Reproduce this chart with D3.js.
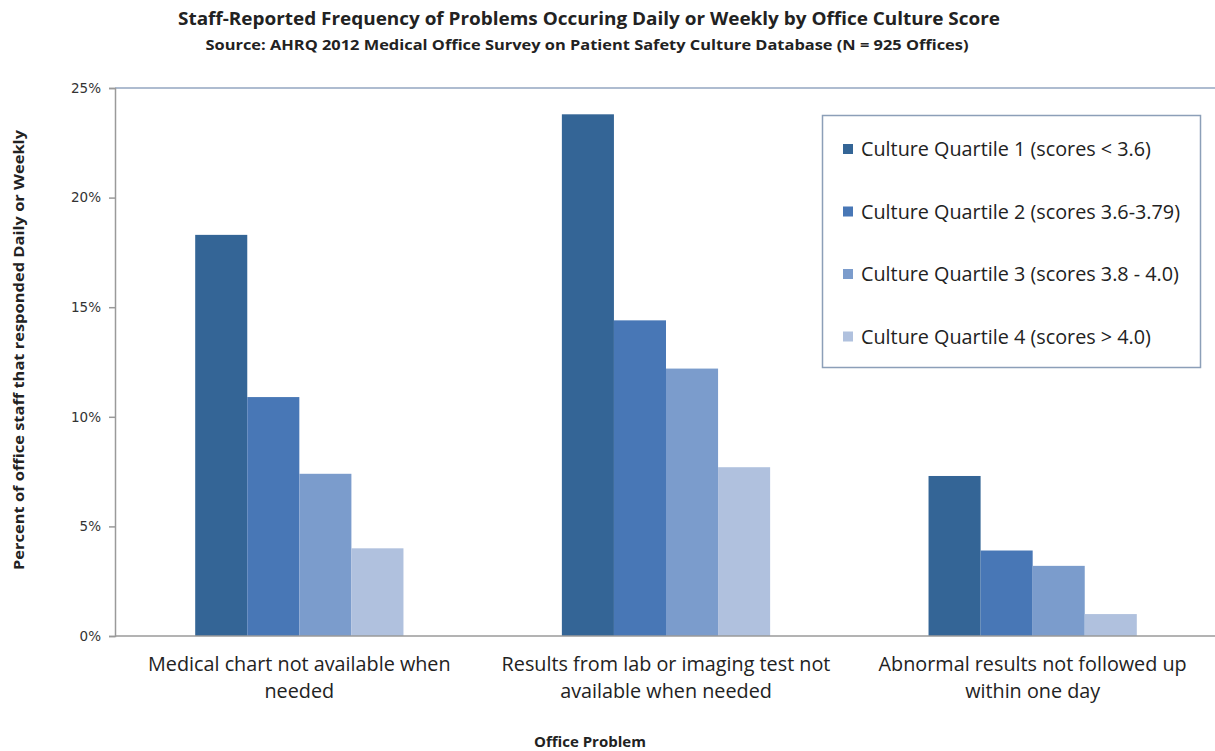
<!DOCTYPE html>
<html>
<head>
<meta charset="utf-8">
<script src="https://cdn.jsdelivr.net/npm/d3@7"></script>
<style>
  html, body { margin: 0; padding: 0; background: #fff; }
  svg { display: block; }
</style>
</head>
<body>
<svg id="chart" width="1215" height="751"></svg>
<script>
// Office problems (x categories)
const problems = [
  ["Medical chart not available when", "needed"],
  ["Results from lab or imaging test not", "available when needed"],
  ["Abnormal results not followed up", "within one day"]
];
// Culture quartile series
const quartiles = [
  "Culture Quartile 1 (scores < 3.6)",
  "Culture Quartile 2 (scores 3.6-3.79)",
  "Culture Quartile 3 (scores 3.8 - 4.0)",
  "Culture Quartile 4 (scores > 4.0)"
];
// Percent of staff reporting daily/weekly, one array per quartile (per problem)
const q1Values = [18.3, 23.8, 7.3];
const q2Values = [10.9, 14.4, 3.9];
const q3Values = [7.4, 12.2, 3.2];
const q4Values = [4.0, 7.7, 1.0];
const seriesValues = [q1Values, q2Values, q3Values, q4Values];
const yTicks = [0, 5, 10, 15, 20, 25];
const colors = ["#346596", "#4877b6", "#7b9ccc", "#b0c1de"];

const FONT = "'Open Sans', Lato, sans-serif";
const svg = d3.select("#chart");
const margin = { left: 115, right: 0, top: 88, bottom: 115 };
const W = 1215, H = 751;
const plotBottom = 636;

const x0 = d3.scaleBand()
  .domain(d3.range(problems.length))
  .range([margin.left + 1, W - margin.right + 1])
  .paddingInner(0.432).paddingOuter(0.216);
const x1 = d3.scaleBand()
  .domain(d3.range(quartiles.length))
  .range([0, x0.bandwidth()]);
const y = d3.scaleLinear().domain([0, 25]).range([plotBottom, margin.top]);

// Fit a text element to a given width (condensed heading style)
function fitWidth(sel, w) {
  sel.attr("textLength", w).attr("lengthAdjust", "spacingAndGlyphs");
}

// Titles
svg.append("text")
  .attr("x", 589).attr("y", 25)
  .attr("text-anchor", "middle")
  .attr("font-family", FONT)
  .attr("font-weight", "bold").attr("font-size", 18)
  .attr("fill", "#222")
  .text("Staff-Reported Frequency of Problems Occuring Daily or Weekly by Office Culture Score")
  .call(fitWidth, 822);
svg.append("text")
  .attr("x", 587).attr("y", 50)
  .attr("text-anchor", "middle")
  .attr("font-family", FONT)
  .attr("font-weight", "bold").attr("font-size", 14)
  .attr("fill", "#222")
  .text("Source:  AHRQ 2012 Medical Office Survey on Patient Safety Culture Database (N = 925 Offices)")
  .call(fitWidth, 763);

// Top border of plot area
svg.append("line")
  .attr("x1", margin.left).attr("x2", W)
  .attr("y1", y(25)).attr("y2", y(25))
  .attr("stroke", "#93a6c0").attr("stroke-width", 1.5);

// Bars
const groups = svg.append("g").selectAll("g")
  .data(problems.map((p, i) => i))
  .join("g")
  .attr("transform", i => `translate(${x0(i)},0)`);
groups.selectAll("rect")
  .data(i => seriesValues.map((vals, s) => ({ s, v: vals[i] })))
  .join("rect")
  .attr("x", d => x1(d.s))
  .attr("width", x1.bandwidth())
  .attr("y", d => y(d.v))
  .attr("height", d => plotBottom - y(d.v))
  .attr("fill", d => colors[d.s]);

// Y axis
const yAxis = d3.axisLeft(y).tickValues(yTicks).tickFormat(d => d + "%").tickSize(6).tickPadding(8);
const gy = svg.append("g").attr("transform", `translate(${margin.left},0)`).call(yAxis);
gy.select(".domain").attr("stroke", "#9a9a9a").attr("stroke-width", 1.5);
gy.selectAll(".tick line").attr("stroke", "#9a9a9a").attr("stroke-width", 1.5);
gy.selectAll(".tick text")
  .attr("font-family", "'DejaVu Sans', Verdana, sans-serif")
  .attr("font-size", 13.5).attr("fill", "#333");

// X baseline
svg.append("line")
  .attr("x1", margin.left).attr("x2", W)
  .attr("y1", plotBottom).attr("y2", plotBottom)
  .attr("stroke", "#9a9a9a").attr("stroke-width", 1.5);

// X category labels
const xl = svg.append("g").selectAll("text")
  .data(problems.map((p, i) => ({ p, i })))
  .join("text")
  .attr("x", d => x0(d.i) + x0.bandwidth() / 2)
  .attr("y", 671)
  .attr("text-anchor", "middle")
  .attr("font-family", FONT)
  .attr("font-size", 19.8).attr("fill", "#222");
xl.selectAll("tspan")
  .data(d => d.p.map(line => ({ line, x: x0(d.i) + x0.bandwidth() / 2 })))
  .join("tspan")
  .attr("x", d => d.x)
  .attr("dy", (d, k) => k === 0 ? 0 : 27)
  .text(d => d.line);

// Axis titles
svg.append("text")
  .attr("x", 590).attr("y", 747)
  .attr("text-anchor", "middle")
  .attr("font-family", FONT)
  .attr("font-weight", "bold").attr("font-size", 15)
  .attr("fill", "#222")
  .text("Office Problem");
svg.append("text")
  .attr("transform", "translate(24,350) rotate(-90)")
  .attr("text-anchor", "middle")
  .attr("font-family", FONT)
  .attr("font-weight", "bold").attr("font-size", 14)
  .attr("fill", "#222")
  .text("Percent of office staff  that responded Daily or Weekly")
  .call(fitWidth, 440);

// Legend
const legend = svg.append("g");
legend.append("rect")
  .attr("x", 822.5).attr("y", 115.5).attr("width", 378).attr("height", 252)
  .attr("fill", "#fff").attr("stroke", "#8c9fb8").attr("stroke-width", 1.5);
const li = legend.selectAll("g.item")
  .data(quartiles.map((q, s) => ({ q, s })))
  .join("g").attr("class", "item")
  .attr("transform", d => `translate(843,${149 + d.s * 62.5})`);
li.append("rect")
  .attr("x", 0).attr("y", -5).attr("width", 10).attr("height", 10)
  .attr("fill", d => colors[d.s]);
li.append("text")
  .attr("x", 18).attr("y", 7)
  .attr("font-family", FONT)
  .attr("font-size", 19.8).attr("fill", "#222")
  .text(d => d.q);
</script>
</body>
</html>
